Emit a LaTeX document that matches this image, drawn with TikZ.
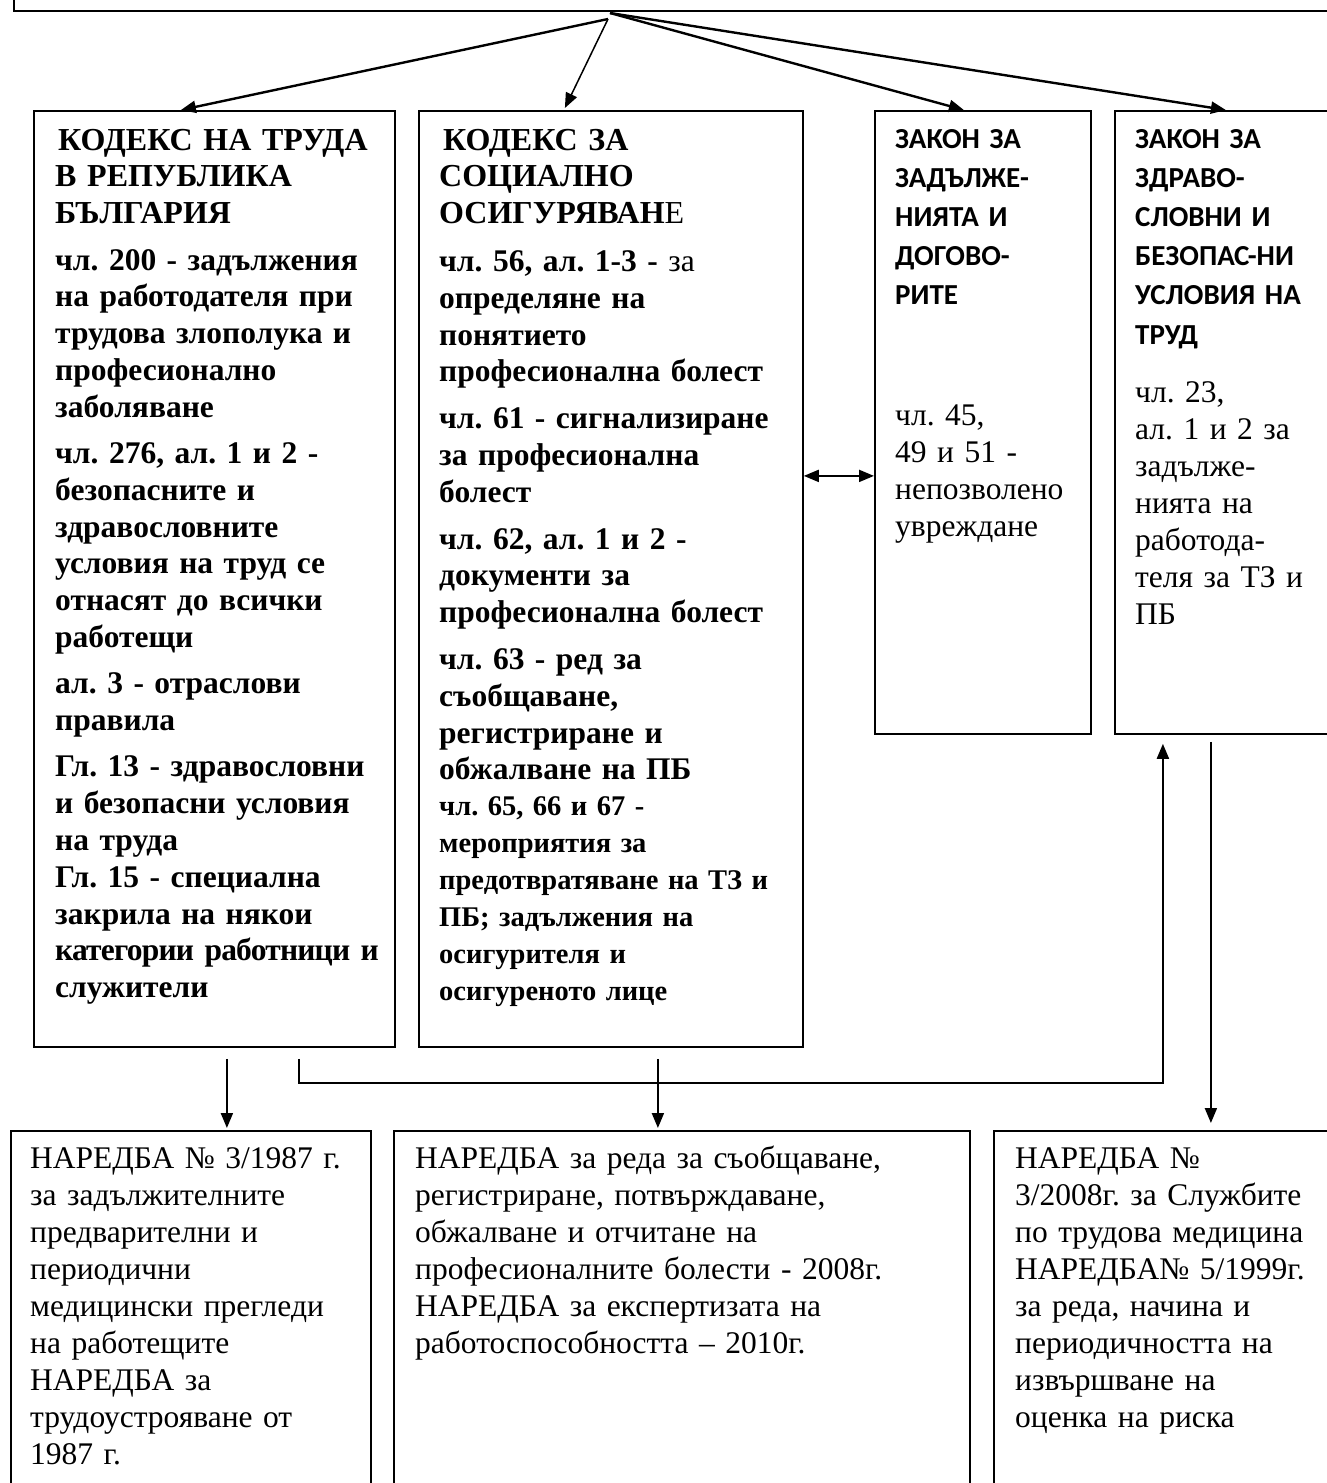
\documentclass[tikz,border=0pt]{standalone}
\usepackage{fontspec}
\setmainfont{Liberation Serif}
\newfontfamily\lawsans{Carlito}
\usetikzlibrary{arrows.meta,positioning}
\frenchspacing

\begin{document}
\begin{tikzpicture}[x=1pt,y=-1pt,
  lawbox/.style={draw,line width=1.8pt,anchor=north west,inner sep=0pt},
  lawtext/.style={anchor=base west,inner sep=0pt,align=left,text width=#1},
  titletext/.style={font=\fontsize{32}{36.8}\selectfont\bfseries},
  boldtext/.style={font=\fontsize{31.5}{36.8}\selectfont\bfseries},
  notetext/.style={font=\fontsize{28.5}{37}\selectfont\bfseries},
  headtext/.style={font=\lawsans\fontsize{29}{39.2}\selectfont\bfseries},
  plaintext/.style={font=\fontsize{31.5}{37}\selectfont},
  flow/.style={-{Triangle[length=15pt,width=12pt]},line width=2pt}
]
\clip (0,0) rectangle (1327,1483);

\node[lawbox,anchor=south west,minimum width=1350pt,minimum height=60pt,
  line width=2.2pt] (header) at (13,12) {};
\coordinate (hub) at (610,13);
\coordinate (hubl) at (608,19);

\node[lawbox,minimum width=361pt,minimum height=936pt] (ktruda) at (33,110) {};
\node[lawbox,minimum width=384pt,minimum height=936pt] (ksoc) at (418,110) {};
\node[lawbox,minimum width=216pt,minimum height=623pt] (zzd) at (874,110) {};
\node[lawbox,minimum width=231pt,minimum height=623pt] (zzbut) at (1114,110) {};

\node[lawbox,minimum width=360pt,minimum height=400pt] (nar1) at (10,1130) {};
\node[lawbox,minimum width=576pt,minimum height=400pt] (nar2) at (393,1130) {};
\node[lawbox,minimum width=352pt,minimum height=400pt] (nar3) at (993,1130) {};

\node[lawtext=380pt,titletext] (ktrudahead) at (55,150) {\hspace*{3pt}КОДЕКС НА ТРУДА\\
  В РЕПУБЛИКА\\ БЪЛГАРИЯ};
\node[lawtext=380pt,boldtext] (ktrudatxt) at (55,270) {чл. 200 - задължения\\
  на работодателя при\\ трудова злополука и\\
  професионално\\ заболяване\\[9.5pt]
  чл. 276, ал. 1 и 2 -\\ безопасните и\\ здравословните\\
  условия на труд се\\ отнасят до всички\\ работещи\\[9.5pt]
  ал. 3 - отраслови\\ правила\\[9.5pt]
  Гл. 13 - здравословни\\ и безопасни условия\\ на труда\\
  Гл. 15 - специална\\ закрила на някои\\
  {\addfontfeature{LetterSpace=-2.5}категории работници и}\\
  служители};

\node[lawtext=400pt,titletext] (ksochead) at (439,150) {\hspace*{4pt}КОДЕКС ЗА\\
  СОЦИАЛНО\\ ОСИГУРЯВАН{\mdseries Е}};
\node[lawtext=400pt,boldtext] (ksoctxt) at (439,271.5) {чл. 56, ал. 1-3 - {\mdseries за}\\
  определяне на\\ понятието\\ професионална болест\\[10pt]
  чл. 61 - сигнализиране\\ за професионална\\ болест\\[10pt]
  чл. 62, ал. 1 и 2 -\\ документи за\\ професионална болест\\[10pt]
  чл. 63 - ред за\\ съобщаване,\\ регистриране и\\ обжалване на ПБ};
\node[lawtext=400pt,notetext] (ksocnote) at (439,815) {чл. 65, 66 и 67 -\\
  мероприятия за\\ предотвратяване на ТЗ и\\ ПБ; задължения на\\
  осигурителя и\\ осигуреното лице};

\node[lawtext=250pt,headtext] (zzdhead) at (895,148) {ЗАКОН ЗА\\ ЗАДЪЛЖЕ-\\
  НИЯТА И\\ ДОГОВО-\\ РИТЕ};
\node[lawtext=250pt,plaintext] (zzdtxt) at (895,425) {чл. 45,\\ 49 и 51 -\\
  непозволено\\ увреждане};

\node[lawtext=250pt,headtext] (zzbuthead) at (1135,148) {ЗАКОН ЗА\\ ЗДРАВО-\\
  СЛОВНИ И\\ БЕЗОПАС-НИ\\ УСЛОВИЯ НА\\ ТРУД};
\node[lawtext=250pt,plaintext] (zzbuttxt) at (1135,402) {чл. 23,\\ ал. 1 и 2 за\\
  задълже-\\ нията на\\ работода-\\ теля за ТЗ и\\ ПБ};

\node[lawtext=380pt,plaintext] (nar1txt) at (30,1168) {НАРЕДБА № 3/1987 г.\\
  за задължителните\\ предварителни и\\ периодични\\ медицински прегледи\\
  на работещите\\ НАРЕДБА за\\ трудоустрояване от\\ 1987 г.};
\node[lawtext=600pt,plaintext] (nar2txt) at (415,1168) {НАРЕДБА за реда за съобщаване,\\
  регистриране, потвърждаване,\\ обжалване и отчитане на\\
  професионалните болести - 2008г.\\ НАРЕДБА за експертизата на\\
  работоспособността – 2010г.};
\node[lawtext=380pt,plaintext] (nar3txt) at (1015,1168) {НАРЕДБА №\\
  3/2008г. за Службите\\ по трудова медицина\\ НАРЕДБА№ 5/1999г.\\
  за реда, начина и\\ периодичността на\\ извършване на\\ оценка на риска};

\draw[flow,line width=2.4pt] (hubl) -- ([xshift=-33.5pt]ktruda.north);
\draw[flow,line width=1.5pt] (hubl) -- ([xshift=-46pt,yshift=2pt]ksoc.north);
\draw[flow,line width=2.4pt] (hub) -- ([xshift=-19pt]zzd.north);
\draw[flow,line width=2.4pt] (hub) -- ([xshift=-4.5pt]zzbut.north);

\draw[flow,{Triangle[length=15pt,width=12pt]}-{Triangle[length=15pt,width=12pt]}]
  ([yshift=103pt]ksoc.east) -- ([yshift=-53.5pt]zzd.west);

\draw[flow] ([xshift=12.5pt,yshift=-11pt]ktruda.south) -- ([xshift=36pt,yshift=2pt]nar1.north);
\draw[flow] ([xshift=47pt,yshift=-11pt]ksoc.south) -- ([xshift=-24pt,yshift=2pt]nar2.north);
\draw[flow] ([xshift=84.5pt,yshift=-11pt]ktruda.south) -- ++(0,24)
  -| ([xshift=-67.5pt,yshift=-9pt]zzbut.south);
\draw[flow] ([xshift=-19.5pt,yshift=-7pt]zzbut.south) -- ([xshift=41pt,yshift=7pt]nar3.north);
\end{tikzpicture}
\end{document}
